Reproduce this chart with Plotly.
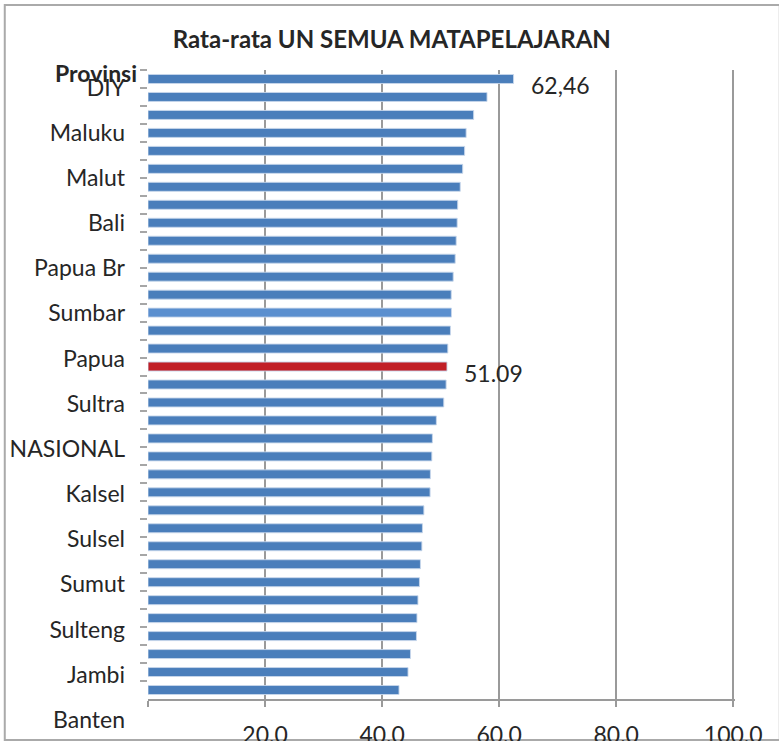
import plotly.graph_objects as go

# ---- data (top to bottom) ----
ranks = ["R%d" % i for i in range(1, 36)]
values = [62.46, 57.93, 55.64, 54.36, 54.10, 53.77, 53.35, 52.92, 52.83, 52.66,
          52.49, 52.15, 51.81, 51.85, 51.68, 51.23, 51.09, 50.94, 50.54, 49.27,
          48.59, 48.50, 48.25, 48.20, 47.14, 46.89, 46.80, 46.55, 46.38, 46.13,
          45.96, 45.87, 44.85, 44.43, 42.89]
province_labels = ["DIY", "Maluku", "Malut", "Bali", "Papua Br", "Sumbar", "Papua",
                   "Sultra", "NASIONAL", "Kalsel", "Sulsel", "Sumut", "Sulteng",
                   "Jambi", "Banten"]
x_tickvals = [0, 20, 40, 60, 80, 100]
x_ticktext = ["", "20.0", "40.0", "60.0", "80.0", "100.0"]
highlight_idx = 16          # red bar
light_idx = 13              # lighter blue bar
label_idx = [0, 16]
label_text = ["62,46", "51.09"]

BLUE = "#4a7ebb"
LIGHT = "#5b8fcf"
RED = "#c11f27"
colors = [BLUE] * len(values)
colors[highlight_idx] = RED
colors[light_idx] = LIGHT

FONT = "Lato"
GRID = "#9a9a9a"

fig = go.Figure()
fig.add_trace(go.Bar(
    x=values, y=ranks, orientation="h",
    marker=dict(color=colors, line=dict(color="rgba(200,215,235,0.9)", width=1)),
    hoverinfo="x", showlegend=False,
))

# invisible helper trace for the province label axis
n = len(province_labels)
fig.add_trace(go.Scatter(
    x=[0] * n, y=list(range(n)), xaxis="x2", yaxis="y2",
    mode="markers", marker=dict(opacity=0), hoverinfo="skip", showlegend=False,
))

for i, t in zip(label_idx, label_text):
    fig.add_annotation(x=values[i], y=ranks[i], xref="x", yref="y", text=t,
                       showarrow=False, xanchor="left", yanchor="middle",
                       xshift=15, yshift=-6,
                       font=dict(family=FONT, size=23, color="#262626"))

fig.add_annotation(x=-0.0154, y=0.9955, xref="paper", yref="paper",
                   text="<b>Provinsi</b>", showarrow=False,
                   xanchor="right", yanchor="middle",
                   font=dict(family=FONT, size=23, color="#262626"))

# outer chart frame
fig.add_shape(type="rect", xref="paper", yref="paper",
              x0=-0.2440, x1=1.0763, y0=-0.006, y1=1.0976,
              line=dict(color="#aaaaaa", width=2), layer="below")

fig.update_layout(
    width=779, height=741,
    margin=dict(l=148, r=44, t=70, b=5, autoexpand=False),
    paper_bgcolor="white", plot_bgcolor="rgba(0,0,0,0)",
    bargap=0.5,
    font=dict(family=FONT, size=22, color="#262626"),
    title=dict(text="<b>Rata-rata UN SEMUA MATAPELAJARAN</b>",
               x=0.503, xref="container", xanchor="center",
               y=0.946, yref="container", yanchor="middle",
               font=dict(family=FONT, size=24, color="#262626")),
    xaxis=dict(range=[0, 100.3], domain=[0, 1], anchor="y", automargin=False,
               tickvals=x_tickvals, ticktext=x_ticktext,
               showgrid=True, gridcolor=GRID, gridwidth=2,
               zeroline=False, showline=True, linecolor=GRID, linewidth=2,
               ticks="outside", ticklen=6, tickwidth=2, tickcolor=GRID,
               ticklabelstandoff=8,
               tickfont=dict(family=FONT, size=23, color="#262626"),
               fixedrange=True),
    yaxis=dict(type="category", categoryorder="array", categoryarray=ranks,
               range=[len(ranks) - 0.5, -0.5], autorange=False,
               domain=[0.05556, 1], anchor="x", automargin=False,
               showticklabels=False, showgrid=False, zeroline=False,
               showline=False, ticks="outside", tickson="boundaries",
               ticklen=7, tickwidth=2, tickcolor="#a6a6a6", fixedrange=True),
    xaxis2=dict(range=[0, 100], domain=[0, 1], anchor="y2", visible=False,
                automargin=False, showgrid=False, zeroline=False),
    yaxis2=dict(range=[-0.36, 14.39], domain=[0, 1], anchor="x2", side="left",
                automargin=False,
                tickvals=list(range(n)), ticktext=province_labels[::-1],
                showgrid=False, zeroline=False, showline=False, ticks="",
                ticklabelstandoff=22,
                tickfont=dict(family=FONT, size=23, color="#262626")),
)

fig.write_html("out.html", config={"displayModeBar": False},
               post_script="document.body.style.margin='0';")
